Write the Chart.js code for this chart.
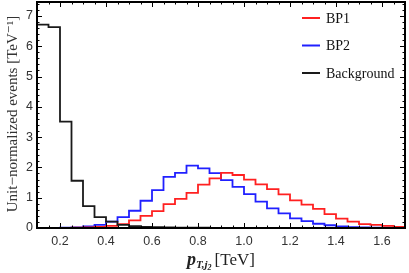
<!DOCTYPE html>
<html>
<head>
<meta charset="utf-8">
<script src="https://cdn.jsdelivr.net/npm/chart.js@4.4.1/dist/chart.umd.min.js"></script>
<style>
  html, body { margin: 0; padding: 0; background: #fff; }
  #wrap { width: 409px; height: 273px; }
</style>
</head>
<body>
<div id="wrap"><canvas id="histo" width="409" height="273"></canvas></div>
<script>
// bin edges of the p_T histogram (TeV)
const binEdges = [0.10, 0.15, 0.20, 0.25, 0.30, 0.35, 0.40, 0.45, 0.50, 0.55, 0.60,
    0.65, 0.70, 0.75, 0.80, 0.85, 0.90, 0.95, 1.00, 1.05, 1.10, 1.15, 1.20, 1.25,
    1.30, 1.35, 1.40, 1.45, 1.50, 1.55, 1.60, 1.65, 1.70];

const bp1 = [0, 0, 0.005, 0.01, 0.02, 0.04, 0.07, 0.13, 0.25, 0.40, 0.56, 0.79,
    0.96, 1.16, 1.43, 1.64, 1.82, 1.75, 1.60, 1.44, 1.28, 1.11, 0.91, 0.77, 0.63,
    0.46, 0.31, 0.21, 0.13, 0.10, 0.07, 0.04];

const bp2 = [0, 0.005, 0.01, 0.02, 0.05, 0.10, 0.21, 0.36, 0.57, 0.90, 1.25, 1.69,
    1.82, 2.06, 1.97, 1.81, 1.58, 1.36, 1.12, 0.87, 0.65, 0.48, 0.32, 0.23, 0.14,
    0.09, 0.05, 0.03, 0.02, 0.01, 0.01, 0.005];

const background = [6.71, 6.63, 3.51, 1.56, 0.72, 0.36, 0.21, 0.10, 0.06, 0.04,
    0.03, 0.02, 0.015, 0.01, 0.01, 0.005, 0.005, 0, 0, 0, 0, 0, 0, 0, 0, 0, 0, 0,
    0, 0, 0, 0];

const xTicks = [0.2, 0.4, 0.6, 0.8, 1.0, 1.2, 1.4, 1.6];
const yTicks = [0, 1, 2, 3, 4, 5, 6, 7];

const SERIF = "'Liberation Serif', 'DejaVu Serif', serif";
const SANS = "'Liberation Sans', Arial, sans-serif";

function steps(values) {
    // one point per bin start, plus the closing edge
    let pts = values.map((v, i) => ({ x: binEdges[i], y: v }));
    pts.push({ x: binEdges[binEdges.length - 1], y: values[values.length - 1] });
    return pts;
}

const series = [
    { label: "BP1", data: bp1, color: "#ff2020", order: 1 },
    { label: "BP2", data: bp2, color: "#2020ff", order: 2 },
    { label: "Background", data: background, color: "#1a1a1a", order: 0 }
];

const framePlugin = {
    id: "frame",
    afterDraw(chart) {
        const ctx = chart.ctx;
        const a = chart.chartArea;
        const xs = chart.scales.x, ys = chart.scales.y;
        ctx.save();

        // inward ticks on all four sides
        ctx.strokeStyle = "#000";
        ctx.lineWidth = 1;
        ctx.beginPath();
        for (let k = 2; k <= 34; k++) {
            let v = k * 0.05;
            if (v > 1.7 + 1e-9) break;
            let px = Math.round(xs.getPixelForValue(v)) + 0.5;
            let major = k % 4 === 0;
            let len = major ? 5 : 2.5;
            ctx.moveTo(px, a.bottom); ctx.lineTo(px, a.bottom - len);
            ctx.moveTo(px, a.top); ctx.lineTo(px, a.top + len);
        }
        for (let k = 0; k <= 37; k++) {
            let v = k * 0.2;
            let py = Math.round(ys.getPixelForValue(v)) + 0.5;
            let major = k % 5 === 0;
            let len = major ? 5 : 2.5;
            ctx.moveTo(a.left, py); ctx.lineTo(a.left + len, py);
            ctx.moveTo(a.right, py); ctx.lineTo(a.right - len, py);
        }
        ctx.stroke();

        ctx.lineWidth = 2;
        ctx.strokeRect(a.left, a.top, a.right - a.left, a.bottom - a.top);

        // legend
        ctx.textBaseline = "middle";
        ctx.textAlign = "left";
        ctx.font = "14px " + SERIF;
        series.forEach((s, i) => {
            let yy = 18 + i * 27.5;
            ctx.strokeStyle = s.color;
            ctx.lineWidth = 2;
            ctx.beginPath();
            ctx.moveTo(302, yy); ctx.lineTo(320, yy);
            ctx.stroke();
            ctx.fillStyle = "#111";
            ctx.fillText(s.label, 326, yy + 1);
        });

        // y axis title
        ctx.save();
        ctx.translate(13, 114);
        ctx.rotate(-Math.PI / 2);
        ctx.textAlign = "center";
        ctx.textBaseline = "middle";
        ctx.fillStyle = "#333";
        ctx.font = "15px " + SERIF;
        ctx.fillText("Unit\u2212normalized events [TeV\u207B\u00B9]", 0, 0);
        ctx.restore();

        // x axis title: p_{T,j_2}[TeV]
        ctx.fillStyle = "#222";
        ctx.textBaseline = "alphabetic";
        let parts = [
            { t: "p", f: "bold italic 18px " + SERIF, dy: 0 },
            { t: "T,j", f: "bold italic 11px " + SERIF, dy: 3 },
            { t: "2", f: "bold italic 8px " + SERIF, dy: 5 },
            { t: "[TeV]", f: "17px " + SERIF, dy: 0 }
        ];
        let total = 0;
        parts.forEach(p => { ctx.font = p.f; p.w = ctx.measureText(p.t).width; total += p.w; });
        total += 3;
        let x0 = 221 - total / 2;
        parts.forEach((p, i) => {
            ctx.font = p.f;
            ctx.fillText(p.t, x0, 265 + p.dy);
            x0 += p.w + (i === 2 ? 3 : 0);
        });

        ctx.restore();
    }
};

new Chart(document.getElementById("histo").getContext("2d"), {
    type: "line",
    data: {
        datasets: series.map(s => ({
            label: s.label,
            data: steps(s.data),
            borderColor: s.color,
            borderWidth: 1.8,
            pointRadius: 0,
            stepped: true,
            fill: false,
            order: s.order
        }))
    },
    options: {
        responsive: false,
        animation: false,
        layout: { padding: { left: 0, right: 4, top: 2, bottom: 0 } },
        plugins: { legend: { display: false }, tooltip: { enabled: false } },
        scales: {
            x: {
                type: "linear",
                min: 0.1,
                max: 1.7,
                grid: { display: false, drawTicks: false },
                border: { display: false },
                afterBuildTicks: sc => { sc.ticks = xTicks.map(v => ({ value: v })); },
                afterFit: sc => { sc.height = 45; sc.paddingLeft = 0; sc.paddingRight = 0; },
                ticks: {
                    padding: 6,
                    color: "#333",
                    font: { family: SANS, size: 12.5 },
                    maxRotation: 0,
                    callback: v => v.toFixed(1)
                }
            },
            y: {
                min: 0,
                max: 7.46,
                grid: { display: false, drawTicks: false },
                border: { display: false },
                afterBuildTicks: sc => { sc.ticks = yTicks.map(v => ({ value: v })); },
                afterFit: sc => { sc.width = 37; sc.paddingTop = 0; sc.paddingBottom = 0; },
                ticks: {
                    padding: 4,
                    color: "#333",
                    font: { family: SANS, size: 12.5 },
                    callback: v => String(v)
                }
            }
        }
    },
    plugins: [framePlugin]
});
</script>
</body>
</html>
